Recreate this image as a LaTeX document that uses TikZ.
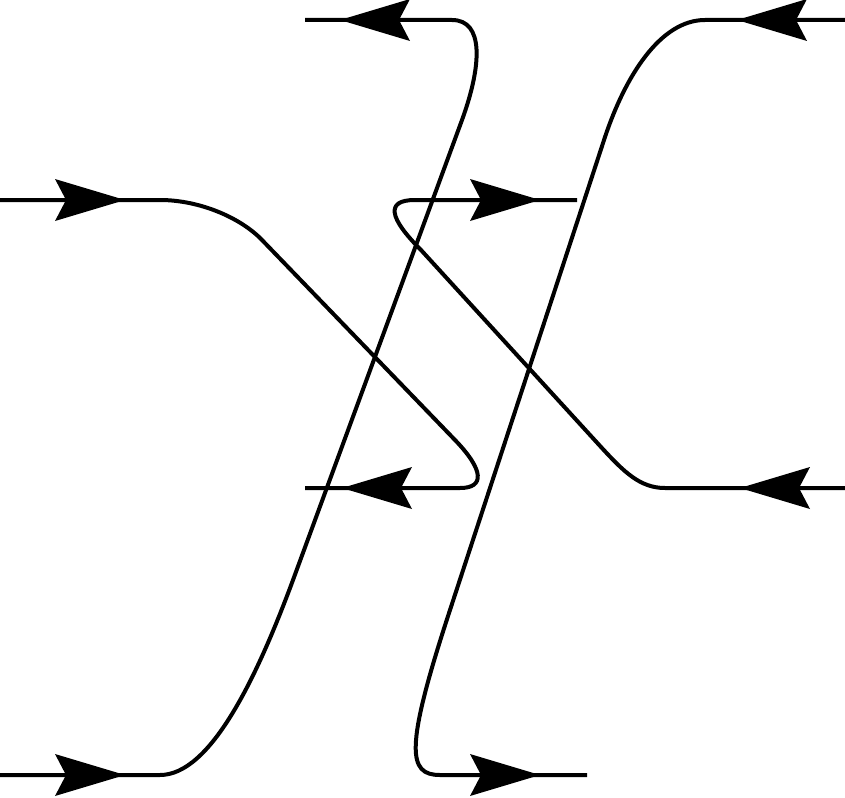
\documentclass[tikz,border=0pt]{standalone}
\begin{document}
\begin{tikzpicture}[x=1pt,y=-1pt,
  strand/.style={line width=4pt, line join=round},
  rarrow/.pic={\fill (0,0) -- (-70,-21) -- (-59,0) -- (-70,21) -- cycle;},
  larrow/.pic={\fill (0,0) -- (70,-21) -- (59,0) -- (70,21) -- cycle;}
]
\useasboundingbox (0,0) rectangle (845,797);
% strand A: bottom-left to top-left
\draw[strand] (0,775) -- (160,775) .. controls (210,775) and (256,680) .. (293,580)
  -- (462,120) .. controls (482,65) and (484,20) .. (452,20) -- (305,20);
% strand B: left (y=200) to middle-left (y=488)
\draw[strand] (0,200) -- (160,200) .. controls (200,200) and (241,218) .. (262,240)
  -- (455,440) .. controls (484,470) and (485,488) .. (460,488) -- (305,488);
% strand C: top-right to bottom-middle
\draw[strand] (845,20) -- (705,20) .. controls (660,20) and (625,77) .. (605,137)
  -- (450,610) .. controls (404,750) and (408,775) .. (440,775) -- (587,775);
% strand D: right (y=488) to middle (y=200)
\draw[strand] (845,488) -- (665,488) .. controls (640,488) and (624,472) .. (601,447)
  -- (421,250) .. controls (389,218) and (385,200) .. (415,200) -- (577,200);
% arrowheads
\pic at (125,775) {rarrow};
\pic at (125,200) {rarrow};
\pic at (540,200) {rarrow};
\pic at (540,775) {rarrow};
\pic at (340,20) {larrow};
\pic at (342,488) {larrow};
\pic at (737,20) {larrow};
\pic at (740,488) {larrow};
\end{tikzpicture}
\end{document}
